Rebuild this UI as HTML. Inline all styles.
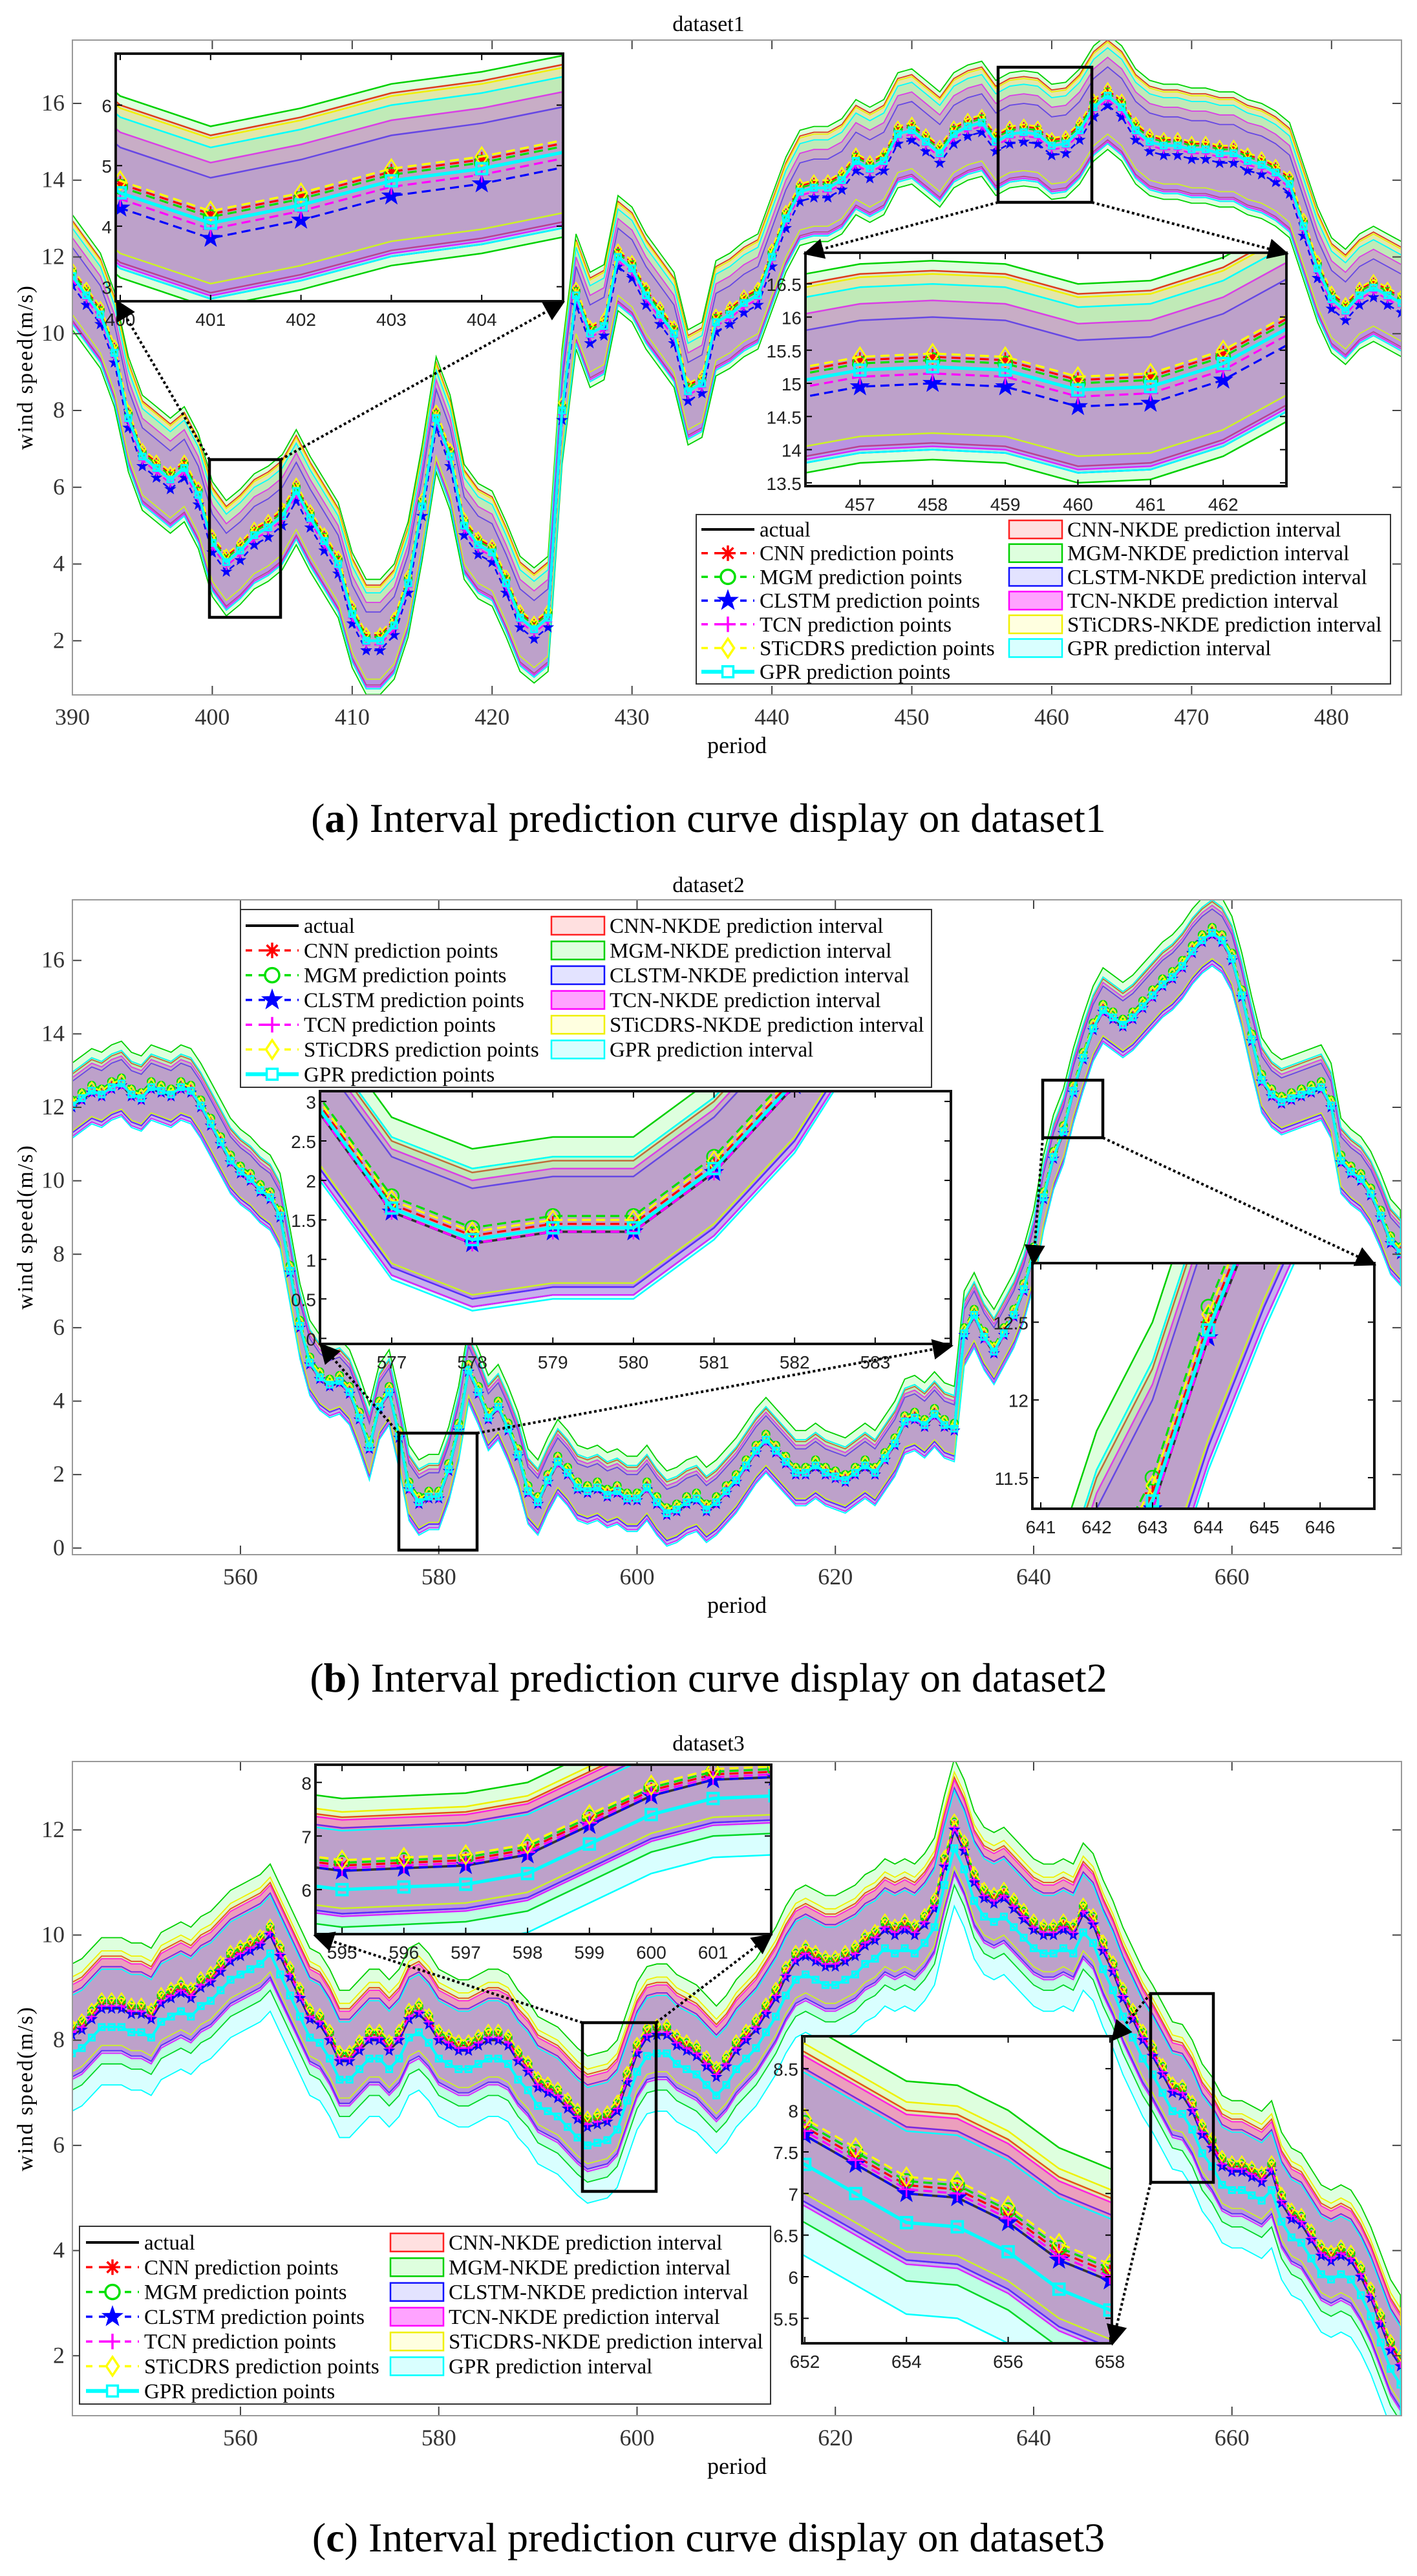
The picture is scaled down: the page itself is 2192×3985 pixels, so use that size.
<!DOCTYPE html>
<html><head><meta charset="utf-8">
<style>
html,body{margin:0;padding:0;background:#fff;width:2192px;height:3985px;overflow:hidden;}
svg{display:block;font-family:"Liberation Serif",serif;}
.sans{font-family:"Liberation Sans",sans-serif;}
</style></head>
<body>
<svg id="fig" width="2192" height="3985" viewBox="0 0 2192 3985" xmlns="http://www.w3.org/2000/svg">
<defs>
<marker id="arrowhead" markerWidth="8" markerHeight="8" refX="6" refY="4" orient="auto" markerUnits="strokeWidth"><path d="M0,0 L8,4 L0,8 z" fill="#000"/></marker>
</defs>
<rect x="0" y="0" width="2192" height="3985" fill="#fff"/>
<text x="1096" y="48" font-size="34" text-anchor="middle">dataset1</text>
<text x="1096" y="1380" font-size="34" text-anchor="middle">dataset2</text>
<text x="1096" y="2708" font-size="34" text-anchor="middle">dataset3</text>
<text x="1140" y="1165" font-size="36" text-anchor="middle">period</text>
<text x="1140" y="2495" font-size="36" text-anchor="middle">period</text>
<text x="1140" y="3827" font-size="36" text-anchor="middle">period</text>
<text transform="translate(50,568) rotate(-90)" font-size="34" letter-spacing="2" text-anchor="middle">wind speed(m/s)</text>
<text transform="translate(50,1898) rotate(-90)" font-size="34" letter-spacing="2" text-anchor="middle">wind speed(m/s)</text>
<text transform="translate(50,3231) rotate(-90)" font-size="34" letter-spacing="2" text-anchor="middle">wind speed(m/s)</text>
<text x="1096" y="1287" font-size="64" text-anchor="middle">(<tspan font-weight="bold">a</tspan>) Interval prediction curve display on dataset1</text>
<text x="1096" y="2617" font-size="64" text-anchor="middle">(<tspan font-weight="bold">b</tspan>) Interval prediction curve display on dataset2</text>
<text x="1096" y="3947" font-size="64" text-anchor="middle">(<tspan font-weight="bold">c</tspan>) Interval prediction curve display on dataset3</text>
</svg>
<script>
// ---------- DATA ----------
const startA = 390;
const actualA = [11.5,11.0,10.5,9.5,7.8,6.8,6.5,6.2,6.5,5.8,
4.55,4.05,4.35,4.75,4.95,5.25,5.9,5.2,4.6,4.0,
2.7,2.0,2.0,2.4,3.5,5.5,7.8,6.8,5.0,4.5,
4.3,3.5,2.6,2.3,2.6,8.0,11.0,10.0,10.2,12.0,
11.7,11.0,10.5,10.0,8.5,8.7,10.3,10.5,10.8,11.0,
12.0,13.0,13.7,13.8,13.8,14.0,14.5,14.3,14.5,15.2,
15.3,15.0,14.7,15.2,15.4,15.5,15.0,15.2,15.25,15.2,
14.9,14.95,15.3,15.9,16.2,15.9,15.3,15.0,14.9,14.9,
14.8,14.8,14.7,14.7,14.5,14.4,14.2,13.9,12.8,11.7,
10.9,10.6,11.0,11.2,11.0,10.8];
const startB = 543;
const actualB = [12.0,12.2,12.4,12.3,12.5,12.6,12.3,12.2,12.5,12.4,
12.3,12.5,12.4,12.0,11.5,11.0,10.5,10.2,10.0,9.7,
9.5,9.0,7.5,6.0,5.0,4.6,4.4,4.5,4.2,3.5,
2.7,3.8,4.2,3.0,1.6,1.2,1.35,1.35,2.1,3.2,
4.8,4.2,3.5,3.8,3.2,2.5,1.5,1.2,1.8,2.3,
2.0,1.6,1.5,1.6,1.4,1.5,1.3,1.3,1.6,1.2,
0.9,1.0,1.2,1.3,1.0,1.2,1.5,1.8,2.2,2.6,
2.9,2.6,2.3,2.0,2.0,2.2,2.0,1.9,1.8,2.0,
2.2,2.0,2.4,2.8,3.4,3.5,3.3,3.6,3.3,3.2,
5.8,6.3,5.7,5.3,5.8,6.3,7.0,8.0,9.5,10.6,
11.3,12.4,13.3,14.1,14.6,14.4,14.2,14.4,14.7,15.0,
15.3,15.5,15.8,16.2,16.5,16.7,16.5,16.0,15.0,13.8,
12.7,12.3,12.1,12.2,12.3,12.4,12.5,12.0,10.5,10.2,
10.0,9.6,9.0,8.3,8.0];
const startC = 543;
const actualC = [8.1,8.2,8.4,8.6,8.6,8.6,8.5,8.5,8.4,8.7,
8.8,8.9,8.8,9.0,9.1,9.3,9.5,9.6,9.7,9.8,
10.0,9.6,9.2,8.8,8.4,8.3,8.0,7.6,7.6,7.8,
8.0,8.0,7.8,8.0,8.4,8.5,8.3,8.0,7.9,7.8,
7.8,7.9,8.0,8.0,7.9,7.6,7.4,7.1,7.0,6.9,
6.7,6.5,6.35,6.4,6.45,6.65,7.2,7.75,8.05,8.1,
8.1,7.9,7.8,7.7,7.5,7.3,7.5,7.8,8.0,8.2,
8.5,8.8,9.2,9.5,9.6,9.5,9.4,9.4,9.5,9.6,
9.8,9.9,10.1,10.0,10.1,10.0,10.2,10.5,11.3,12.0,
11.6,11.0,10.7,10.6,10.7,10.5,10.3,10.1,10.0,10.0,
10.1,10.0,10.4,10.2,9.7,9.3,8.8,8.4,8.0,7.7,
7.35,7.0,6.95,6.65,6.2,5.95,5.6,5.5,5.5,5.4,
5.3,5.5,4.9,4.6,4.5,4.2,3.9,3.8,3.9,3.8,
3.5,3.1,2.6,2.1,1.8];
// model order: CNN, MGM, CLSTM, TCN, STiCDRS, GPR
const modelNames = ['CNN','MGM','CLSTM','TCN','STiCDRS','GPR'];
const biasA = [0.15,0.1,-0.25,-0.1,0.2,0.0];
const biasB = [0.1,0.2,0.0,0.0,0.15,0.05];
const biasC = [0.1,0.15,0.0,0.05,0.2,-0.35];
const halfWidthA = [1.3,1.5,1.0,1.1,1.2,1.25];
const halfWidthB = [0.8,1.0,0.7,0.8,0.8,0.9];
const halfWidthC = [0.9,1.2,0.8,0.9,0.9,1.1];
const xTicksA = [390,400,410,420,430,440,450,460,470,480];
const yTicksA = [2,4,6,8,10,12,14,16];
const xTicksBC = [560,580,600,620,640,660];
const yTicksB = [0,2,4,6,8,10,12,14,16];
const yTicksC = [2,4,6,8,10,12];

// ---------- STYLE ----------
const NS = 'http://www.w3.org/2000/svg';
const svg = document.getElementById('fig');
const colors = ['#ff0000','#00e000','#0000ff','#ff00ff','#ffff00','#00ffff'];
const lineColors = ['#ff2020','#00d000','#1010ff','#ff00ff','#f0f000','#00ffff'];
const fills = ['rgba(255,0,0,0.12)','rgba(0,255,0,0.13)','rgba(0,0,255,0.11)','rgba(255,0,255,0.36)','rgba(255,255,0,0.12)','rgba(0,255,255,0.15)'];
const shapes = ['ast','circ','star','plus','diam','sq'];

function add(tag, attrs, parent, name, inter){
  const el = document.createElementNS(NS, tag);
  for (const k in attrs) el.setAttribute(k, attrs[k]);
  
  
  parent.appendChild(el);
  return el;
}

function markerPath(shape, cx, cy, s){
  const h = s/2;
  if (shape==='circ') return null;
  if (shape==='ast'){ const d=h*0.7; return `M${cx-h},${cy}L${cx+h},${cy}M${cx},${cy-h}L${cx},${cy+h}M${cx-d},${cy-d}L${cx+d},${cy+d}M${cx-d},${cy+d}L${cx+d},${cy-d}`; }
  if (shape==='plus') return `M${cx-h},${cy}L${cx+h},${cy}M${cx},${cy-h}L${cx},${cy+h}`;
  if (shape==='diam') return `M${cx},${cy-h*1.2}L${cx+h*0.8},${cy}L${cx},${cy+h*1.2}L${cx-h*0.8},${cy}Z`;
  if (shape==='sq') return `M${cx-h*0.7},${cy-h*0.7}L${cx+h*0.7},${cy-h*0.7}L${cx+h*0.7},${cy+h*0.7}L${cx-h*0.7},${cy+h*0.7}Z`;
  if (shape==='star'){ let p=''; for(let i=0;i<10;i++){const r=i%2?h*0.42:h*1.05;const a=-Math.PI/2+i*Math.PI/5;p+=(i?'L':'M')+(cx+r*Math.cos(a)).toFixed(1)+','+(cy+r*Math.sin(a)).toFixed(1);} return p+'Z'; }
}

let clipId = 0;
function drawPlot(P, start, act, bias, hw, ms, lw, tag, inset){
  const id = 'clip'+(clipId++);
  const cp = add('clipPath', {id:id}, svg, tag+'-clip', false);
  add('rect', {x:P.l, y:P.t, width:P.r-P.l, height:P.b-P.t}, cp, tag+'-clip-rect', false);
  if (inset) add('rect', {x:P.l, y:P.t, width:P.r-P.l, height:P.b-P.t, fill:'#fff'}, svg, tag+'-background', false);
  const g = add('g', {'clip-path':`url(#${id})`}, svg, tag+'-plot-area', false);
  const sx = v => P.l + (v-P.x0)/(P.x1-P.x0)*(P.r-P.l);
  const sy = v => P.b - (v-P.y0)/(P.y1-P.y0)*(P.b-P.t);
  const n = act.length;
  for (let k=0;k<6;k++){
    let up=[], lo=[];
    for (let i=0;i<n;i++){ const c=act[i]+bias[k]; up.push(sx(start+i).toFixed(1)+','+sy(c+hw[k]).toFixed(1)); lo.unshift(sx(start+i).toFixed(1)+','+sy(c-hw[k]).toFixed(1)); }
    add('polygon', {points:up.concat(lo).join(' '), fill:fills[k], stroke:lineColors[k], 'stroke-width':inset?2.5:1.8}, g, tag+'-'+modelNames[k].toLowerCase()+'-interval', false);
  }
  let ap=[]; for (let i=0;i<n;i++) ap.push(sx(start+i).toFixed(1)+','+sy(act[i]).toFixed(1));
  add('polyline', {points:ap.join(' '), fill:'none', stroke:'#333', 'stroke-width':lw+0.5}, g, tag+'-actual-line', false);
  for (let k=0;k<6;k++){
    let pp=[]; for (let i=0;i<n;i++) pp.push(sx(start+i).toFixed(1)+','+sy(act[i]+bias[k]).toFixed(1));
    const attrs = {points:pp.join(' '), fill:'none', stroke:colors[k], 'stroke-width':k===5?lw*1.6:lw};
    if (k<5) attrs['stroke-dasharray'] = inset ? '14,8' : '9,6';
    add('polyline', attrs, g, tag+'-'+modelNames[k].toLowerCase()+'-prediction-line', false);
    for (let i=0;i<n;i++){
      const cx=sx(start+i), cy=sy(act[i]+bias[k]);
      if (cx<P.l-20||cx>P.r+20) continue;
      if (shapes[k]==='circ') add('circle', {cx:cx.toFixed(1), cy:cy.toFixed(1), r:ms*0.45, fill:'none', stroke:colors[k], 'stroke-width':lw*0.8}, g, tag+'-'+modelNames[k].toLowerCase()+'-point', false);
      else add('path', {d:markerPath(shapes[k],cx,cy,ms), fill:shapes[k]==='star'?colors[k]:'none', stroke:colors[k], 'stroke-width':shapes[k]==='sq'?lw*1.2:lw*0.8}, g, tag+'-'+modelNames[k].toLowerCase()+'-point', false);
    }
  }
  return {sx, sy};
}

function axes(P, xt, yt, tag, inset){
  const sx = v => P.l + (v-P.x0)/(P.x1-P.x0)*(P.r-P.l);
  const sy = v => P.b - (v-P.y0)/(P.y1-P.y0)*(P.b-P.t);
  const tl = inset ? 10 : 14;
  const col = inset ? '#000' : '#444';
  for (const v of xt){
    const x = sx(v);
    add('line', {x1:x, y1:P.b, x2:x, y2:P.b-tl, stroke:col, 'stroke-width':2}, svg, tag+'-x-tick', false);
    add('line', {x1:x, y1:P.t, x2:x, y2:P.t+tl, stroke:col, 'stroke-width':2}, svg, tag+'-x-tick-top', false);
    const t = add('text', {x:x, y:P.b+(inset?38:46), 'font-size':inset?28:36, 'text-anchor':'middle', fill:inset?'#222':'#333', class:inset?'sans':''}, svg, tag+'-x-tick-label', false);
    t.textContent = String(v);
  }
  for (const v of yt){
    const y = sy(v);
    add('line', {x1:P.l, y1:y, x2:P.l+tl, y2:y, stroke:col, 'stroke-width':2}, svg, tag+'-y-tick', false);
    add('line', {x1:P.r, y1:y, x2:P.r-tl, y2:y, stroke:col, 'stroke-width':2}, svg, tag+'-y-tick-right', false);
    const t = add('text', {x:P.l-(inset?6:12), y:y+11, 'font-size':inset?28:36, 'text-anchor':'end', fill:inset?'#222':'#333', class:inset?'sans':''}, svg, tag+'-y-tick-label', false);
    t.textContent = String(v);
  }
  add('rect', {x:P.l, y:P.t, width:P.r-P.l, height:P.b-P.t, fill:'none', stroke:inset?'#111':'#999', 'stroke-width':inset?4:2}, svg, tag+'-axes-box', false);
}

function zoomBox(x1,y1,x2,y2,tag){
  add('rect', {x:x1, y:y1, width:x2-x1, height:y2-y1, fill:'none', stroke:'#000', 'stroke-width':4.5}, svg, tag+'-zoom-rect', false);
}
function arrow(x1,y1,x2,y2,tag){
  add('line', {x1:x1, y1:y1, x2:x2, y2:y2, stroke:'#000', 'stroke-width':4, 'stroke-dasharray':'4,4', 'marker-end':'url(#arrowhead)'}, svg, tag+'-zoom-arrow', false);
}

function legend(L, tag){
  add('rect', {x:L.l, y:L.t, width:L.r-L.l, height:L.b-L.t, fill:'#fff', stroke:'#333', 'stroke-width':2}, svg, tag+'-legend-box', false);
  const labels1 = ['actual','CNN prediction points','MGM prediction points','CLSTM prediction points','TCN prediction points','STiCDRS prediction points','GPR prediction points'];
  const labels2 = ['CNN-NKDE prediction interval','MGM-NKDE prediction interval','CLSTM-NKDE prediction interval','TCN-NKDE prediction interval','STiCDRS-NKDE prediction interval','GPR prediction interval'];
  for (let i=0;i<7;i++){
    const y = L.y0 + i*L.dy;
    const x1 = L.c1, x2 = L.c1+82, xm = L.c1+41;
    if (i===0){
      add('line', {x1:x1, y1:y, x2:x2, y2:y, stroke:'#000', 'stroke-width':4}, svg, tag+'-legend-actual-line', false);
    } else {
      const k=i-1;
      const attrs={x1:x1, y1:y, x2:x2, y2:y, stroke:colors[k], 'stroke-width':k===5?6:3.5};
      if (k<5) attrs['stroke-dasharray']='10,10';
      add('line', attrs, svg, tag+'-legend-'+modelNames[k].toLowerCase()+'-line', false);
      if (shapes[k]==='circ') add('circle', {cx:xm, cy:y, r:11, fill:'#fff', stroke:colors[k], 'stroke-width':3.5}, svg, tag+'-legend-marker', false);
      else add('path', {d:markerPath(shapes[k],xm,y,24), fill:shapes[k]==='star'?colors[k]:'#fff', stroke:colors[k], 'stroke-width':3.5}, svg, tag+'-legend-marker', false);
    }
    const t = add('text', {x:L.c1+90, y:y+11, 'font-size':33}, svg, tag+'-legend-label', false);
    t.textContent = labels1[i];
    if (i<6){
      add('rect', {x:L.c2, y:y-14, width:82, height:28, fill:fills[i], stroke:lineColors[i], 'stroke-width':2.5}, svg, tag+'-legend-swatch', false);
      const t2 = add('text', {x:L.c2+90, y:y+11, 'font-size':33}, svg, tag+'-legend-label', false);
      t2.textContent = labels2[i];
    }
  }
}

// ---------- PANEL A ----------
const PA = {l:112,r:2168,t:62,b:1075,x0:390,x1:485,y0:0.59,y1:17.65};
drawPlot(PA, startA, actualA, biasA, halfWidthA, 13, 2.5, 'panel-a', false);
axes(PA, xTicksA, yTicksA, 'panel-a', false);
zoomBox(324,711,434,955,'panel-a-1');
zoomBox(1544,104,1689,313,'panel-a-2');
const IA1 = {l:179,r:871,t:83,b:466,x0:399.95,x1:404.9,y0:2.76,y1:6.85};
drawPlot(IA1, startA, actualA, biasA, halfWidthA, 24, 3.2, 'inset-a1', true);
axes(IA1, [400,401,402,403,404], [3,4,5,6], 'inset-a1', true);
const IA2 = {l:1246,r:1990,t:391,b:752,x0:456.25,x1:462.87,y0:13.45,y1:16.97};
drawPlot(IA2, startA, actualA, biasA, halfWidthA, 24, 3.2, 'inset-a2', true);
axes(IA2, [457,458,459,460,461,462], [13.5,14,14.5,15,15.5,16,16.5], 'inset-a2', true);
arrow(324,711,183,470,'panel-a-1');
arrow(434,711,867,470,'panel-a-1');
arrow(1544,313,1250,391,'panel-a-2');
arrow(1689,313,1986,391,'panel-a-2');
legend({l:1077,r:2151,t:796,b:1058,c1:1085,c2:1561,y0:819,dy:36.7}, 'panel-a');

// ---------- PANEL B ----------
const PB = {l:112,r:2168,t:1392,b:2405,x0:543.05,x1:677.1,y0:-0.18,y1:17.65};
drawPlot(PB, startB, actualB, biasB, halfWidthB, 13, 2.5, 'panel-b', false);
axes(PB, xTicksBC, yTicksB, 'panel-b', false);
zoomBox(617,2217,738,2398,'panel-b-1');
zoomBox(1613,1671,1706,1760,'panel-b-2');
legend({l:372,r:1441,t:1407,b:1682,c1:380,c2:853,y0:1432,dy:38.3}, 'panel-b');
const IB1 = {l:495,r:1471,t:1688,b:2079,x0:576.11,x1:583.94,y0:-0.07,y1:3.13};
drawPlot(IB1, startB, actualB, biasB, halfWidthB, 24, 3.2, 'inset-b1', true);
axes(IB1, [577,578,579,580,581,582,583], [0,0.5,1,1.5,2,2.5,3], 'inset-b1', true);
const IB2 = {l:1597,r:2126,t:1954,b:2334,x0:640.85,x1:646.97,y0:11.3,y1:12.88};
drawPlot(IB2, startB, actualB, biasB, halfWidthB, 24, 3.2, 'inset-b2', true);
axes(IB2, [641,642,643,644,645,646], [11.5,12,12.5], 'inset-b2', true);
arrow(617,2217,499,2083,'panel-b-1');
arrow(738,2217,1467,2083,'panel-b-1');
arrow(1613,1760,1599,1950,'panel-b-2');
arrow(1706,1760,2122,1954,'panel-b-2');

// ---------- PANEL C ----------
const PC = {l:112,r:2168,t:2725,b:3737,x0:543.05,x1:677.1,y0:0.86,y1:13.3};
drawPlot(PC, startC, actualC, biasC, halfWidthC, 13, 2.5, 'panel-c', false);
axes(PC, xTicksBC, yTicksC, 'panel-c', false);
zoomBox(901,3129,1015,3390,'panel-c-1');
zoomBox(1780,3084,1877,3376,'panel-c-2');
legend({l:123,r:1192,t:3444,b:3719,c1:133,c2:604,y0:3469,dy:38.3}, 'panel-c');
const IC1 = {l:488,r:1193,t:2730,b:2992,x0:594.57,x1:601.94,y0:5.17,y1:8.33};
drawPlot(IC1, startC, actualC, biasC, halfWidthC, 24, 3.2, 'inset-c1', true);
axes(IC1, [595,596,597,598,599,600,601], [6,7,8], 'inset-c1', true);
const IC2 = {l:1241,r:1720,t:3150,b:3625,x0:651.95,x1:658.04,y0:5.2,y1:8.89};
drawPlot(IC2, startC, actualC, biasC, halfWidthC, 24, 3.2, 'inset-c2', true);
axes(IC2, [652,654,656,658], [5.5,6,6.5,7,7.5,8,8.5], 'inset-c2', true);
arrow(901,3129,492,2996,'panel-c-1');
arrow(1015,3129,1189,2996,'panel-c-1');
arrow(1780,3084,1724,3152,'panel-c-2');
arrow(1780,3376,1722,3621,'panel-c-2');
</script>
</body></html>
